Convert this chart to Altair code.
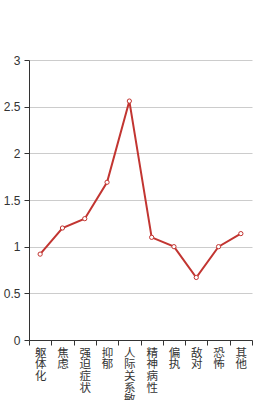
import altair as alt
import pandas as pd

categories = ["躯体化", "焦虑", "强迫症状", "抑郁", "人际关系敏感", "精神病性", "偏执", "敌对", "恐怖", "其他"]
values = [0.92, 1.2, 1.3, 1.69, 2.56, 1.1, 1.0, 0.67, 1.0, 1.14]
y_ticks = [0, 0.5, 1, 1.5, 2, 2.5, 3]

df = pd.DataFrame({"cat": categories, "val": values})

CJK = "Noto Sans CJK SC"
LATIN = "Liberation Sans"

chart = alt.Chart(df).mark_line(
    color="#c23531",
    strokeWidth=2,
    point=alt.OverlayMarkDef(filled=False, fill="white", stroke="#c23531", strokeWidth=1, size=18, opacity=1),
).encode(
    x=alt.X(
        "cat:N",
        sort=categories,
        bandPosition=0.5,
        scale=alt.Scale(type="band", paddingInner=0, paddingOuter=0),
        axis=alt.Axis(
            title=None,
            labelAngle=0,
            labelExpr="split(datum.label, '')",
            labelBaseline="top",
            labelAlign="center",
            labelLineHeight=11.7,
            labelFontSize=11.5,
            labelFont=CJK,
            labelColor="#333",
            labelPadding=2,
            labelOverlap=False,
            labelLimit=0,
            tickBand="extent",
            tickSize=5,
            tickColor="#333",
            domainColor="#333",
            grid=False,
        ),
    ),
    y=alt.Y(
        "val:Q",
        scale=alt.Scale(domain=[0, 3], nice=False, zero=True),
        axis=alt.Axis(
            title=None,
            values=y_ticks,
            format="~g",
            labelFontSize=12,
            labelFont=LATIN,
            labelColor="#333",
            labelPadding=4,
            tickSize=5,
            tickColor="#333",
            domainColor="#333",
            gridColor="#ccc",
            domain=True,
        ),
    ),
).properties(
    width=223,
    height=280,
    autosize=alt.AutoSizeParams(type="none"),
    padding={"left": 29, "top": 60, "right": 28, "bottom": 60},
).configure_view(stroke=None)

chart.save("out.html", embed_options={"renderer": "svg", "actions": False})
